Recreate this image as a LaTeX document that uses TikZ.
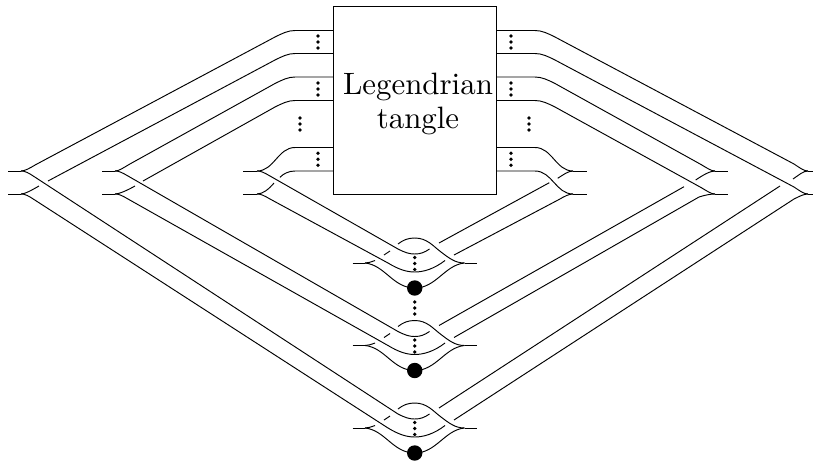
\documentclass[tikz,border=0pt]{standalone}
\usetikzlibrary{calc}
\tikzset{
  strand/.style={line width=0.95pt,line cap=butt,line join=round},
  frame/.style={draw,line width=0.95pt,minimum width=163.7pt,minimum height=187.3pt,inner sep=0pt},
  label/.style={align=center,inner sep=0pt,scale=3.09,font=\fontsize{10}{10.8}\selectfont},
}
\newcommand{\threedots}[2]{% x, middle y
  \fill (#1,#2-6) circle (1.85);
  \fill (#1,#2) circle (1.85);
  \fill (#1,#2+6) circle (1.85);
}
\begin{document}
\begin{tikzpicture}[x=1pt,y=-1pt]
\useasboundingbox (0,0) rectangle (813,464);
\node[frame] (box) at (414.85,100.35) {};
\node[label] (title) at (418,104) {Legendrian\\tangle};
\begin{scope}[strand]
% ---------- left cusps ----------
\foreach \a/\b in {8/21,102/115,243/257}{
  \draw (\a,171) -- (\b,171);
  \draw (\a,194) -- (\b,194);
}
% ---------- right cusps ----------
\foreach \a/\b in {573/587,715/728,808/814}{
  \draw (\a,171) -- (\b,171);
  \draw (\a,194) -- (\b,194);
}
% ---------- box to left cusps ----------
\draw (333,30.5) -- (295,30.5) .. controls (288,30.5) and (282,33.5) .. (275,37) -- (36,164.5) .. controls (30,168) and (25,171) .. (21,171);
\draw (333,53.5) -- (295,53.5) .. controls (288,53.5) and (282,56.5) .. (275,60) -- (48,181);
\draw (39,186) .. controls (31,190.5) and (25,194) .. (21,194);
\draw (333,77) -- (295,77) .. controls (288,77) and (282,80) .. (275,83.5) -- (129,164.5) .. controls (123,168) and (119,171) .. (115,171);
\draw (333,100.5) -- (295,100.5) .. controls (288,100.5) and (282,103.5) .. (275,107) -- (143,181);
\draw (135,186) .. controls (127,190.5) and (119,194) .. (115,194);
\draw (333,147.5) -- (295,147.5) .. controls (278,147.5) and (274,171) .. (257,171);
\draw (333,171) -- (295,171) .. controls (289,171) and (283.5,173.5) .. (280,177.3);
\draw (274,183) .. controls (269,189) and (263,194) .. (257,194);
% ---------- box to right cusps ----------
\draw (497,30.5) -- (535,30.5) .. controls (542,30.5) and (548,33.5) .. (555,37) -- (794,164) .. controls (800,168) and (804,171) .. (808,171);
\draw (497,53.5) -- (535,53.5) .. controls (542,53.5) and (548,56.5) .. (555,60) -- (794,187) .. controls (800,191) and (804,194) .. (808,194);
\draw (497,77) -- (535,77) .. controls (542,77) and (548,80) .. (555,83.5) -- (701,164.5) .. controls (707,168) and (711,171) .. (715,171);
\draw (497,100.5) -- (535,100.5) .. controls (542,100.5) and (548,103.5) .. (555,107) -- (701,187.5) .. controls (707,191) and (711,194) .. (715,194);
\draw (497,147.5) -- (535,147.5) .. controls (552,147.5) and (556,171) .. (573,171);
\draw (497,171) -- (535,171) .. controls (552,171) and (556,194) .. (573,194);
% ---------- clasps ----------
\foreach \c in {263,345.5,428}{
  \draw (352.7,\c) -- (365,\c);
  \draw (464.5,\c) -- (476.7,\c);
  \draw (365,\c) .. controls (368,\c) and (371,\c-1) .. (375,\c-2.5);
  \draw (384,\c-8) -- (390,\c-12);
  \draw (398,\c-19) .. controls (403,\c-23) and (408,\c-25) .. (414.7,\c-25)
     .. controls (427,\c-25) and (433,\c-17) .. (441,\c-11)
     .. controls (449,\c-5) and (455,\c) .. (464.5,\c);
  \draw (365,\c) .. controls (385,\c+2) and (393,\c+25) .. (414.7,\c+25)
     .. controls (436.4,\c+25) and (444.5,\c+2) .. (464.5,\c);
  \fill (414.7,\c+25) circle (7.7);
  \threedots{414.7}{\c+0.5}
  \draw (398,\c-14) .. controls (405,\c-10.5) and (409,\c-9) .. (414.7,\c-9)
     .. controls (420.4,\c-9) and (424.4,\c-10.5) .. (429.5,\c-14);
  \draw (388,\c) .. controls (398,\c+6) and (406,\c+9) .. (414.7,\c+9)
     .. controls (423.4,\c+9) and (434,\c+6) .. (445,\c-2.5);
}
% ---------- clasp strands, left ----------
\draw (257,171) .. controls (261,171) and (264,172.5) .. (270,176) -- (398,249);
\draw (257,194) .. controls (261,194) and (264,195.5) .. (270,199) -- (388,263);
\draw (115,171) .. controls (119,171) and (122,172.5) .. (128,176) -- (398,331.5);
\draw (115,194) .. controls (119,194) and (122,195.5) .. (128,199) -- (388,345.5);
\draw (21,171) .. controls (25,171) and (28,172.5) .. (34,176.5) -- (398,414);
\draw (21,194) .. controls (25,194) and (28,195.5) .. (34,199.5) -- (388,428);
% ---------- clasp strands, right ----------
\draw (439,243) -- (549.3,182.7);
\draw (557.7,178.3) .. controls (563,175) and (568,171) .. (573,171);
\draw (454,255) -- (559,199.5) .. controls (565,196) and (569,194) .. (573,194);
\draw (439,325.5) -- (684,186.7);
\draw (695.7,180) .. controls (703,175) and (710,171) .. (715,171);
\draw (454,337.5) -- (699,197) .. controls (705,195) and (711,194) .. (715,194);
\draw (439,408) -- (780,186);
\draw (793,179) .. controls (799,175) and (803,171) .. (808,171);
\draw (454,420) -- (794,199) .. controls (800,196) and (804,194) .. (808,194);
\end{scope}
% ---------- dots ----------
\threedots{318}{42}
\threedots{318}{89}
\threedots{318}{159.3}
\threedots{300}{124}
\threedots{511}{42}
\threedots{511}{89}
\threedots{511}{159.3}
\threedots{529}{124}
\threedots{414.7}{308}
\end{tikzpicture}
\end{document}
